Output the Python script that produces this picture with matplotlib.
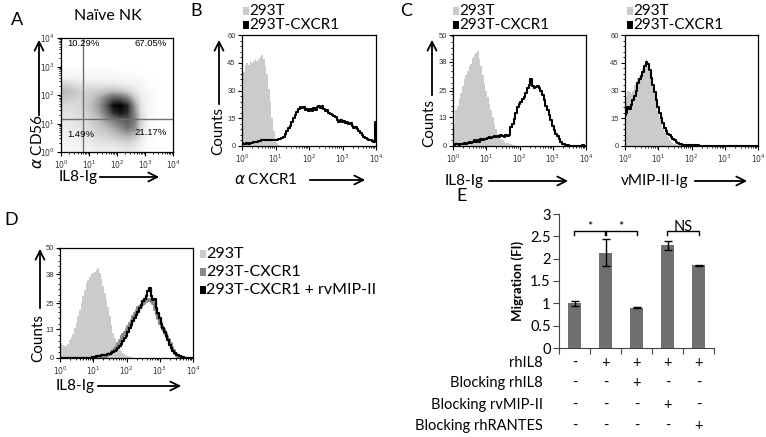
import numpy as np
import matplotlib
matplotlib.use("Agg")
import matplotlib.pyplot as plt
from matplotlib.patches import FancyArrowPatch, Rectangle
from matplotlib.colors import PowerNorm

plt.rcParams['font.family'] = ['Lato', 'DejaVu Sans']

W, H = 766, 437

## data: histogram counts on a log10 grid 0..4 step 0.05 (81 bins)
bins = np.arange(81) * 0.05

b_293t = [37, 40, 44, 45, 44, 46, 45, 46, 47, 46,
          47, 48, 49, 47, 43, 39, 31, 24, 15, 8,
          4, 1.5, 0.5, 0, 0, 0, 0, 0, 0, 0,
          0, 0, 0, 0, 0, 0, 0, 0, 0, 0,
          0, 0, 0, 0, 0, 0, 0, 0, 0, 0,
          0, 0, 0, 0, 0, 0, 0, 0, 0, 0,
          0, 0, 0, 0, 0, 0, 0, 0, 0, 0,
          0, 0, 0, 0, 0, 0, 0, 0, 0, 0, 0]
b_cxcr1 = [1.5, 1, 1, 1.5, 1, 1.5, 1.5, 2, 2, 2,
           2.5, 2.5, 3, 3, 3, 3.5, 3.5, 3, 3.5, 3.5,
           3.5, 3.5, 4, 4, 4.5, 5, 6.5, 8, 9.5, 11,
           13, 15, 17, 18.5, 20, 21, 20.5, 21, 19.5, 20,
           19, 20, 19, 20.5, 19.5, 21, 21.5, 20.5, 21.5, 20,
           19, 19.5, 18, 17.5, 17, 16, 15.5, 14, 13, 14,
           13, 13.5, 12.5, 13, 12, 12.5, 11, 10, 10.5, 9,
           8, 7, 6, 5, 4.5, 4, 3.5, 3, 2.5, 2, 13]

c1_293t = [8, 10, 16, 18, 21, 24, 27, 30, 32, 34,
           36, 37, 39.5, 41, 42, 43, 39, 36, 32, 28,
           25, 22, 19, 16, 13, 10, 7.5, 5.6, 4, 3,
           2.5, 2, 1.5, 1.2, 1, 0.8, 0.5, 0.3, 0.2, 0,
           0, 0, 0, 0, 0, 0, 0, 0, 0, 0,
           0, 0, 0, 0, 0, 0, 0, 0, 0, 0,
           0, 0, 0, 0, 0, 0, 0, 0, 0, 0,
           0, 0, 0, 0, 0, 0, 0, 0, 0, 0, 0]
c1_cxcr1 = [1, 0.5, 1, 1, 0.5, 1, 1, 1.5, 1, 1.5,
            2, 1.5, 2, 2.5, 2, 2.5, 2, 3, 2.5, 3,
            3, 3.5, 4, 3.5, 4, 4.5, 4, 4.5, 4, 5,
            4.5, 4, 5, 4.5, 5, 8.5, 10, 12, 15, 17.5,
            19, 20, 21, 22, 24, 26, 27.5, 30, 27, 26,
            26.5, 27, 26, 25, 23, 20.5, 18, 16, 14, 11.5,
            9, 7, 5.5, 4.5, 3, 1.8, 1, 0.7, 0.5, 0.3,
            0.2, 0.1, 0, 0, 0, 0, 0.2, 0, 0.3, 0, 0]

c2_293t = [19, 27, 30, 29, 28, 30, 33, 35, 36.5, 38,
           40, 42, 44.5, 47, 43, 40, 37, 32, 28, 23,
           19, 15, 12, 10, 7.6, 6, 5, 3.5, 2, 1.5,
           1.2, 1, 0.8, 0.6, 0.5, 0.4, 0.3, 0.2, 0.1, 0.1,
           0, 0, 0, 0, 0, 0, 0, 0, 0, 0,
           0, 0, 0, 0, 0, 0, 0, 0, 0, 0,
           0, 0, 0, 0, 0, 0, 0, 0, 0, 0,
           0, 0, 0, 0, 0, 0, 0, 0, 0, 0, 0]
c2_cxcr1 = [16.5, 18, 21, 20, 22, 25, 27, 30, 34, 36,
            38, 40, 43, 45.5, 44.5, 41, 36.5, 33, 29, 25,
            21, 18, 15, 12.5, 9.5, 8, 6.7, 6, 5, 4,
            3, 2.2, 1.6, 1.2, 1, 0.8, 0.7, 0.6, 0.5, 0.4,
            0.3, 0.4, 0.3, 0.2, 0.3, 0.1, 0, 0, 0, 0,
            0, 0, 0, 0, 0, 0, 0, 0, 0, 0,
            0, 0, 0, 0, 0, 0, 0, 0, 0, 0,
            0, 0, 0, 0, 0, 0, 0, 0, 0, 0, 0]

d_293t = [6.5, 7, 6, 5.5, 5.3, 6.5, 8.3, 9.5, 11, 13.5,
          16, 19, 22, 25, 28, 31, 34, 35.5, 37, 38,
          38.6, 39, 40, 41, 38.6, 36, 32.6, 29.5, 26.5, 23,
          19, 15, 11.4, 9, 6.8, 5, 3.8, 3, 2.3, 1.6,
          1, 0.7, 0.5, 0.3, 0.2, 0.1, 0, 0, 0, 0,
          0, 0, 0, 0, 0, 0, 0, 0, 0, 0,
          0, 0, 0, 0, 0, 0, 0, 0, 0, 0,
          0, 0, 0, 0, 0, 0, 0, 0, 0, 0, 0]
d_cxcr1 = [0, 0, 0, 0, 0, 0, 0, 0, 0, 0,
           0, 0, 0, 0, 0, 0, 0, 0, 0, 0,
           0, 0, 0, 0, 0.3, 0.5, 0.8, 1, 1.5, 2,
           2.5, 3, 3.5, 4.5, 5.5, 6.8, 8, 10, 11, 12,
           13, 14.5, 16, 17.5, 19, 20.5, 22, 23, 23.5, 24.5,
           25, 26, 26.5, 27, 26.5, 26, 25, 22.5, 20, 18,
           16, 14.5, 13, 11.5, 10, 8.5, 6.8, 5, 3.8, 2.5,
           1.5, 1, 0.5, 0.3, 0, 0, 0, 0, 0, 0, 0]
d_cxcr1_vmip = [0, 0, 0, 0, 0, 0, 0, 0, 0, 0,
                0, 0, 0, 0, 0, 0, 0, 0, 0, 0,
                0.5, 0.5, 1, 1, 1, 1.2, 1.3, 1.5, 1.5, 1.8,
                2, 2.3, 2.6, 3.2, 3.8, 4.5, 5.3, 6.5, 7.6, 9,
                10, 12, 13.6, 15, 16.7, 18, 19.7, 21, 22.7, 24,
                25.8, 27, 28, 30.3, 31.8, 28, 26.5, 27, 22.7, 20.5,
                18, 15.5, 13.6, 12, 10, 8, 6, 4.5, 3, 2.2,
                1.5, 1.2, 0.8, 0.5, 0.3, 0.1, 0, 0, 0, 0, 0]

# panel A: event density, 0.25-decade cells (rows: CD56 low->high, cols: IL8-Ig low->high)
nk_density = [
    [0.3, 0.3, 0.4, 0.5, 0.6, 0.8, 0.8, 0.8, 0.9, 1.0, 0.8, 0.4, 0.1, 0, 0, 0],
    [0.5, 0.5, 0.6, 0.8, 1.0, 1.2, 1.3, 1.5, 1.8, 2.0, 1.5, 0.6, 0.1, 0, 0, 0],
    [0.6, 0.7, 0.8, 1.0, 1.5, 1.8, 2.0, 2.5, 3.0, 3.5, 3.0, 1.2, 0.2, 0, 0, 0],
    [0.8, 0.9, 1.0, 1.3, 1.8, 2.2, 2.8, 3.5, 4.5, 5.5, 4.5, 1.5, 0.2, 0.05, 0, 0],
    [1.0, 1.0, 1.2, 1.5, 2.0, 2.8, 3.8, 5.0, 6.0, 6.5, 5.0, 1.5, 0.3, 0.05, 0, 0],
    [1.2, 1.2, 1.4, 1.8, 2.5, 3.5, 5.5, 8.0, 9.0, 8.0, 4.5, 1.2, 0.3, 0.05, 0, 0],
    [1.5, 1.5, 1.6, 2.0, 2.8, 4.0, 6.5, 9.5, 10, 8.5, 4.0, 1.0, 0.3, 0.1, 0, 0],
    [2.2, 2.0, 1.8, 2.0, 2.5, 3.5, 5.0, 6.5, 6.5, 5.0, 2.5, 0.8, 0.3, 0.1, 0, 0],
    [2.8, 2.5, 2.0, 1.8, 2.0, 2.2, 2.5, 2.8, 2.5, 2.0, 1.2, 0.5, 0.2, 0.1, 0, 0],
    [1.8, 1.5, 1.2, 1.0, 1.0, 1.0, 1.0, 0.9, 0.8, 0.6, 0.5, 0.3, 0.1, 0.05, 0, 0],
    [0.4, 0.4, 0.3, 0.3, 0.3, 0.3, 0.3, 0.3, 0.2, 0.2, 0.15, 0.1, 0.05, 0, 0, 0],
    [0.1, 0.1, 0.1, 0.1, 0.1, 0.1, 0.1, 0.05, 0.05, 0.05, 0.05, 0, 0, 0, 0, 0],
    [0, 0, 0, 0, 0, 0, 0, 0, 0, 0, 0, 0, 0, 0, 0, 0],
    [0, 0, 0, 0, 0, 0, 0, 0, 0, 0, 0, 0, 0, 0, 0, 0],
    [0, 0, 0, 0, 0, 0, 0, 0, 0, 0, 0, 0, 0, 0, 0, 0],
    [0, 0, 0, 0, 0, 0, 0, 0, 0, 0, 0, 0, 0, 0, 0, 0]]
quad_gate = (np.log10(6), np.log10(14))
quad_pct = ['10.29%', '67.05%', '1.49%', '21.17%']

# panel E: migration
migration = [1.0, 2.13, 0.9, 2.3, 1.85]
migration_err = [0.05, 0.3, 0.01, 0.1, 0.01]
row_names = ['rhIL8', 'Blocking rhIL8', 'Blocking rvMIP-II', 'Blocking rhRANTES']
row_signs = [['-', '+', '+', '+', '+'],
             ['-', '-', '+', '-', '-'],
             ['-', '-', '-', '+', '-'],
             ['-', '-', '-', '-', '+']]

LIGHT = '#cbcbcb'
MID = '#8a8a8a'

fig = plt.figure(figsize=(W / 100, H / 100), dpi=100)


def px_axes(x0, y0, x1, y1):
    return fig.add_axes([x0 / W, 1 - y1 / H, (x1 - x0) / W, (y1 - y0) / H])


def ftext(x, y, s, **kw):
    fig.text(x / W, 1 - y / H, s, **kw)


def arrow(x0, y0, x1, y1):
    fig.add_artist(FancyArrowPatch((x0 / W, 1 - y0 / H), (x1 / W, 1 - y1 / H),
                                   transform=fig.transFigure, arrowstyle='->',
                                   mutation_scale=16, lw=1.3, color='k'))


def swatch(x, y, color, label, size=11):
    fig.add_artist(Rectangle((x / W, 1 - (y + 4) / H), 6 / W, 8 / H,
                             transform=fig.transFigure, color=color, lw=0))
    ftext(x + 6.5, y, label, fontsize=size, va='center', ha='left')


def log_axis(axis, ax):
    major = [0, 1, 2, 3, 4]
    minor = [d + np.log10(k) for d in range(4) for k in range(2, 10)]
    labels = ['$10^{%d}$' % m for m in major]
    if axis == 'x':
        ax.set_xlim(0, 4)
        ax.set_xticks(major)
        ax.set_xticklabels(labels)
        ax.set_xticks(minor, minor=True)
    else:
        ax.set_ylim(0, 4)
        ax.set_yticks(major)
        ax.set_yticklabels(labels)
        ax.set_yticks(minor, minor=True)


def style(ax):
    ax.tick_params(which='major', length=3, width=0.8, labelsize=5.5,
                   labelcolor='#333333', pad=1.5)
    ax.tick_params(which='minor', length=1.5, width=0.6)
    for s in ax.spines.values():
        s.set_linewidth(0.9)
    for lab in ax.get_xticklabels() + ax.get_yticklabels():
        lab.set_fontfamily('Liberation Sans')


def hist_panel(ax, ymax, yticks, fills, lines):
    for vals, col in fills:
        ax.fill_between(bins, vals, step='mid', color=col, lw=0)
    for vals, col, lw in lines:
        ax.plot(bins, vals, drawstyle='steps-mid', color=col, lw=lw)
    log_axis('x', ax)
    ax.set_ylim(0, ymax)
    ax.set_yticks(yticks)
    ax.set_yticks(np.arange(0, ymax + 0.01, yticks[1] / 5), minor=True)
    style(ax)


# ---- A
axA = px_axes(61, 38, 173, 152)
axA.imshow(np.array(nk_density), extent=(0, 4, 0, 4), origin='lower',
           interpolation='bilinear', cmap='Greys', norm=PowerNorm(0.75, vmin=0, vmax=10),
           aspect='auto')
axA.axvline(quad_gate[0], color='#707070', lw=1)
axA.axhline(quad_gate[1], color='#707070', lw=1)
log_axis('x', axA)
log_axis('y', axA)
style(axA)
for (tx, ty), s in zip([(0.06, 0.955), (0.66, 0.955), (0.06, 0.15), (0.66, 0.167)], quad_pct):
    axA.text(tx, ty, s, transform=axA.transAxes, fontsize=6.8, va='center',
             family='Liberation Sans')
ftext(17, 20, 'A', fontsize=13, ha='center', va='center')
ftext(108, 16, 'Naïve NK', fontsize=11.5, ha='center', va='center')
ftext(37, 142, r'$\alpha$ CD56', fontsize=11, rotation=90, ha='center', va='center')
arrow(39, 118, 39, 37)
ftext(78, 177, 'IL8-Ig', fontsize=11, ha='center', va='center')
arrow(97, 177, 162, 177)

# ---- B
axB = px_axes(242, 35, 376, 146)
hist_panel(axB, 60, [0, 15, 30, 45, 60], [(b_293t, LIGHT)], [(b_cxcr1, 'k', 1.5)])
ftext(196, 11, 'B', fontsize=13, ha='center', va='center')
swatch(243, 11, LIGHT, '293T')
swatch(243, 25, 'k', '293T-CXCR1')
ftext(218, 131, 'Counts', fontsize=11, rotation=90, ha='center', va='center')
arrow(219, 107, 219, 37)
ftext(266, 180, r'$\alpha$ CXCR1', fontsize=11, ha='center', va='center')
arrow(307, 180, 368, 180)

# ---- C
axC1 = px_axes(453, 35, 586, 146)
hist_panel(axC1, 50, [0, 13, 25, 38, 50], [(c1_293t, LIGHT)], [(c1_cxcr1, 'k', 1.5)])
axC2 = px_axes(625, 35, 758, 146)
hist_panel(axC2, 60, [0, 15, 30, 45, 60], [(c2_293t, LIGHT)], [(c2_cxcr1, 'k', 1.5)])
ftext(406, 11, 'C', fontsize=13, ha='center', va='center')
swatch(453, 11, LIGHT, '293T')
swatch(453, 25, 'k', '293T-CXCR1')
swatch(627, 11, LIGHT, '293T')
swatch(627, 25, 'k', '293T-CXCR1')
ftext(429, 123, 'Counts', fontsize=11, rotation=90, ha='center', va='center')
arrow(432, 98, 432, 37)
ftext(464, 181, 'IL8-Ig', fontsize=11, ha='center', va='center')
arrow(486, 181, 571, 181)
ftext(655, 181, 'vMIP-II-Ig', fontsize=11, ha='center', va='center')
arrow(692, 181, 750, 181)

# ---- D
axD = px_axes(60, 248, 193, 358)
hist_panel(axD, 50, [0, 13, 25, 38, 50], [(d_293t, LIGHT)],
           [(d_cxcr1, MID, 2.2), (d_cxcr1_vmip, 'k', 1.6)])
ftext(11, 220, 'D', fontsize=13, ha='center', va='center')
swatch(200, 254, LIGHT, '293T', size=11.5)
swatch(200, 272, MID, '293T-CXCR1', size=11.5)
swatch(200, 290, 'k', '293T-CXCR1 + rvMIP-II', size=11.5)
ftext(38, 338, 'Counts', fontsize=11, rotation=90, ha='center', va='center')
arrow(40, 311, 40, 246)
ftext(75, 386, 'IL8-Ig', fontsize=11, ha='center', va='center')
arrow(95, 386, 184, 386)

# ---- E
axE = px_axes(559, 214, 714, 348)
pos = np.arange(len(migration)) + 0.5
axE.bar(pos, migration, width=0.42, color='#6f6f6f', yerr=migration_err,
        error_kw=dict(ecolor='k', elinewidth=1, capsize=3, capthick=1))
axE.set_xlim(0, 5)
axE.set_ylim(0, 3)
axE.set_yticks(np.arange(0, 3.01, 0.5))
axE.set_yticklabels(['0', '0.5', '1', '1.5', '2', '2.5', '3'])
axE.set_xticks(np.arange(0, 5.01, 1))
axE.set_xticklabels([])
axE.spines['top'].set_visible(False)
axE.spines['right'].set_visible(False)
for s in ['left', 'bottom']:
    axE.spines[s].set_color('#444444')
axE.tick_params(axis='y', length=4, labelsize=10.5, color='#444444', pad=2)
axE.tick_params(axis='x', length=4, color='#444444')
axE.set_ylabel('Migration (FI)', fontsize=9.5, fontweight='bold', labelpad=4)

brackets = [(0, 1, '*'), (1, 2, '*'), (3, 4, 'NS')]
for i, j, mark in brackets:
    axE.plot([pos[i] - 0.03, pos[i] - 0.03, pos[j] + 0.03, pos[j] + 0.03],
             [2.52, 2.62, 2.62, 2.52], color='k', lw=1, clip_on=False)
    axE.text((pos[i] + pos[j]) / 2, 2.72 if mark == '*' else 2.7, mark,
             ha='center', va='center', fontsize=9 if mark == '*' else 10.5)

row_y = [-0.112, -0.261, -0.425, -0.582]
tr = axE.get_xaxis_transform()
for name, signs, yy in zip(row_names, row_signs, row_y):
    axE.text(-0.52, yy, name, transform=tr, ha='right', va='center', fontsize=10.5,
             clip_on=False)
    for p, sg in zip(pos, signs):
        axE.text(p, yy, sg, transform=tr, ha='center', va='center', fontsize=10.5,
                 clip_on=False)
ftext(462, 196, 'E', fontsize=13, ha='center', va='center')

fig.savefig('out.png', dpi=100)
